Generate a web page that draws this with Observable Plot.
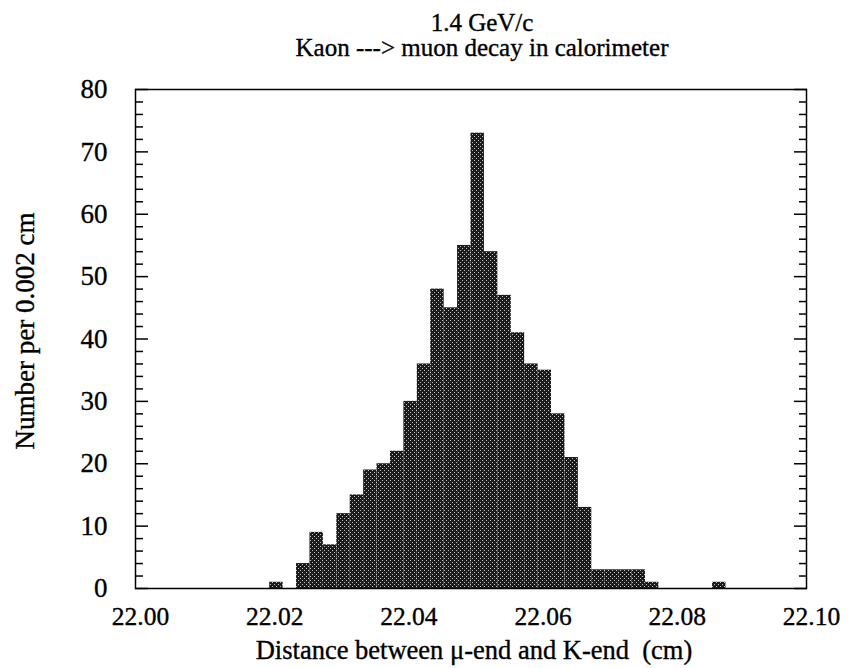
<!DOCTYPE html>
<html>
<head>
<meta charset="utf-8">
<script src="https://cdn.jsdelivr.net/npm/d3@7"></script>
<script src="https://cdn.jsdelivr.net/npm/@observablehq/plot@0.6"></script>
<style>
  body { margin: 0; background: #fff; }
  #title {
    width: 847px; height: 70px; box-sizing: border-box;
    padding-top: 10px; padding-left: 117px;
    text-align: center; font-family: "Liberation Serif", "Times New Roman", serif;
    font-size: 25px; line-height: 25px; color: #000;
    -webkit-text-stroke: 0.35px #000;
  }
  svg text { white-space: pre; font-family: "Liberation Serif", "Times New Roman", serif; stroke: #000; stroke-width: 0.35px; }
</style>
</head>
<body>
<div id="title"></div>
<div id="chart"></div>
<script>
// ---- data ----
const titleLines = ["1.4 GeV/c", "Kaon ---> muon decay in calorimeter"];
const xLabel = "Distance between \u03bc-end and K-end  (cm)";
const yLabel = "Number per 0.002 cm";
const binWidth = 0.002;
const binStart = [22.020, 22.024, 22.026, 22.028, 22.030, 22.032, 22.034, 22.036, 22.038,
                  22.040, 22.042, 22.044, 22.046, 22.048, 22.050, 22.052, 22.054, 22.056,
                  22.058, 22.060, 22.062, 22.064, 22.066, 22.068, 22.070, 22.072, 22.074,
                  22.076, 22.086];
const counts   = [1, 4, 9, 7, 12, 15, 19, 20, 22,
                  30, 36, 48, 45, 55, 73, 54, 47, 41,
                  36, 35, 28, 21, 13, 3, 3, 3, 3,
                  1, 1];
const xTicks = [22.00, 22.02, 22.04, 22.06, 22.08, 22.10];
const yMajor = [0, 10, 20, 30, 40, 50, 60, 70, 80];
const yMinor = d3.range(0, 81, 2).filter(v => v % 10 !== 0);

document.getElementById("title").innerHTML = titleLines.join("<br>");

const bins = binStart.map((s, i) => ({x1: s, x2: +(s + binWidth).toFixed(4), n: counts[i]}));

const font = "'Liberation Serif', 'Times New Roman', serif";

const chart = Plot.plot({
  width: 847,
  height: 598,
  marginLeft: 135,
  marginRight: 41,
  marginTop: 19,
  marginBottom: 80,
  style: {fontFamily: font, fontSize: "26px", color: "#000", background: "#fff"},
  x: {domain: [22.00, 22.10]},
  y: {domain: [0, 80]},
  marks: [
    Plot.rectY(bins, {x1: "x1", x2: "x2", y: "n", fill: "url(#halftone)"}),
    Plot.frame({stroke: "#000", strokeWidth: 1.5}),
    // y labels
    Plot.axisY({anchor: "left", ticks: yMajor, tickSize: 0, tickPadding: 28, label: null, fontSize: 27}),
    // inward ticks left & right
    Plot.axisY({anchor: "left", ticks: yMajor, tickSize: -13, tickFormat: () => "", label: null, strokeWidth: 1.5}),
    Plot.axisY({anchor: "left", ticks: yMinor, tickSize: -8, tickFormat: () => "", label: null, strokeWidth: 1.5}),
    Plot.axisY({anchor: "right", ticks: yMajor, tickSize: -13, tickFormat: () => "", label: null, strokeWidth: 1.5}),
    Plot.axisY({anchor: "right", ticks: yMinor, tickSize: -8, tickFormat: () => "", label: null, strokeWidth: 1.5}),
    // x labels
    Plot.axisX({anchor: "bottom", ticks: xTicks, tickSize: 0, tickPadding: 18, dx: 5, tickFormat: d3.format(".2f"), label: null, fontSize: 25.5}),
    Plot.text([xLabel], {frameAnchor: "bottom", textAnchor: "middle", dy: 70, dx: 3, fontSize: 26.5, text: d => d}),
    Plot.text([yLabel], {frameAnchor: "left", textAnchor: "middle", lineAnchor: "middle", dx: -110, dy: -8, rotate: -90, fontSize: 27, text: d => d})
  ]
});

// halftone dot pattern used as the bar fill
const ns = "http://www.w3.org/2000/svg";
const defs = document.createElementNS(ns, "defs");
defs.innerHTML = `<pattern id="halftone" width="4" height="4" patternUnits="userSpaceOnUse">
  <rect width="4" height="4" fill="#1c1c1c"></rect>
  <rect x="0" y="0" width="1" height="1" fill="#bdbdbd"></rect>
  <rect x="2" y="2" width="1" height="1" fill="#bdbdbd"></rect>
</pattern>`;
chart.insertBefore(defs, chart.firstChild);
document.getElementById("chart").appendChild(chart);
</script>
</body>
</html>
